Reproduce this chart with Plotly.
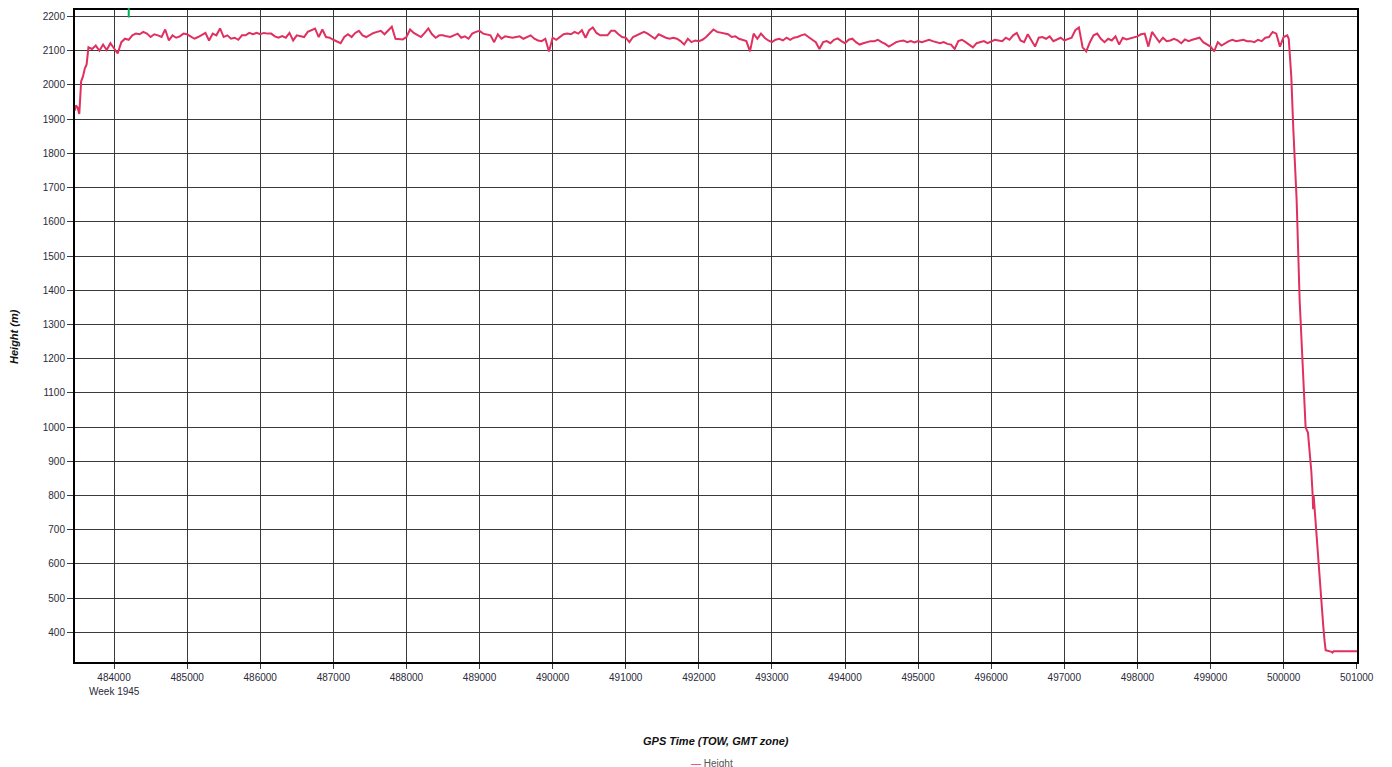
import plotly.graph_objects as go

# ---- data ----
startup_t = [483466, 483475, 483500, 483525, 483550, 483575, 483600, 483625,
             483650, 483700, 483750, 483800, 483850, 483900, 483950]
startup_v = [1925, 1940, 1935, 1915, 2010, 2025, 2048, 2060,
             2110, 2105, 2115, 2100, 2118, 2102, 2122]

plateau_start = 484000
plateau_step = 50
b484 = [2105,2092,2125,2135,2132,2145,2150,2148,2155,2150,2140,2148,2145,2140,2162,2130,2145,2138,2142,2150]
b485 = [2148,2142,2135,2140,2145,2152,2130,2150,2145,2165,2140,2145,2135,2138,2132,2145,2145,2152,2148,2152]
b486 = [2148,2152,2150,2150,2142,2138,2143,2138,2152,2130,2145,2142,2140,2155,2160,2165,2140,2162,2140,2138]
b487 = [2132,2128,2122,2140,2148,2140,2152,2158,2145,2140,2147,2152,2155,2158,2148,2160,2170,2135,2135,2133]
b488 = [2140,2162,2152,2145,2140,2152,2165,2148,2138,2145,2145,2142,2140,2145,2150,2138,2142,2135,2150,2155]
b489 = [2158,2150,2148,2145,2125,2148,2135,2142,2140,2138,2140,2142,2135,2140,2145,2135,2130,2128,2135,2098]
b490 = [2138,2132,2140,2148,2150,2148,2155,2150,2160,2138,2160,2168,2152,2145,2145,2145,2158,2158,2148,2140]
b491 = [2138,2125,2140,2145,2150,2155,2150,2142,2135,2148,2142,2138,2135,2138,2135,2128,2118,2135,2125,2130]
b492 = [2128,2132,2140,2150,2162,2155,2152,2150,2148,2140,2142,2135,2132,2128,2098,2150,2135,2150,2138,2130]
b493 = [2125,2132,2135,2130,2138,2132,2138,2140,2145,2148,2140,2132,2125,2105,2125,2128,2122,2132,2136,2128]
b494 = [2122,2132,2135,2125,2118,2122,2125,2128,2128,2132,2125,2120,2112,2118,2125,2128,2130,2125,2128,2124]
b495 = [2128,2125,2128,2132,2128,2125,2122,2125,2120,2118,2105,2128,2132,2125,2118,2110,2122,2125,2128,2122]
b496 = [2128,2132,2130,2128,2138,2132,2145,2152,2130,2125,2148,2130,2112,2138,2140,2135,2142,2128,2132,2138]
b497 = [2130,2135,2138,2160,2168,2110,2098,2125,2145,2150,2135,2125,2135,2130,2142,2118,2138,2133,2136,2140]
b498 = [2142,2148,2150,2112,2155,2140,2125,2138,2128,2130,2135,2130,2122,2133,2128,2132,2135,2138,2125,2118]
b499 = [2112,2098,2125,2115,2122,2128,2132,2128,2130,2132,2128,2128,2125,2132,2128,2138,2140,2155,2150,2112]
b500 = [2140, 2145]

descent_t = [500070, 500086, 500105, 500133, 500178, 500219, 500287, 500301, 500333,
             500360, 500379, 500397, 500404, 500411, 500424, 500438, 500461, 500483,
             500516, 500543, 500561, 500575, 500657, 500670, 500684, 501054]
descent_v = [2135, 2090, 2025, 1870, 1665, 1373, 1081, 999, 984,
             926, 871, 803, 760, 800, 760, 710, 642, 575,
             496, 417, 374, 348, 343, 341, 345, 345]

x_ticks = [484000, 485000, 486000, 487000, 488000, 489000, 490000, 491000, 492000,
           493000, 494000, 495000, 496000, 497000, 498000, 499000, 500000, 501000]
y_ticks = [400, 500, 600, 700, 800, 900, 1000, 1100, 1200, 1300, 1400, 1500,
           1600, 1700, 1800, 1900, 2000, 2100, 2200]

plateau_v = (b484 + b485 + b486 + b487 + b488 + b489 + b490 + b491 + b492 + b493
             + b494 + b495 + b496 + b497 + b498 + b499 + b500)
plateau_t = [plateau_start + plateau_step * i for i in range(len(plateau_v))]

times = startup_t + plateau_t + descent_t
heights = startup_v + plateau_v + descent_v

LINE = "#e0305f"
FONT = "Liberation Sans, Arial, sans-serif"

fig = go.Figure()
fig.add_trace(go.Scatter(x=times, y=heights, mode="lines", name="Height",
                         line=dict(color=LINE, width=2), showlegend=False))

axis_common = dict(showline=True, mirror=True, linecolor="black", linewidth=2,
                   showgrid=True, gridcolor="#3a3a3a", gridwidth=1, zeroline=False,
                   ticks="outside", tickcolor="#3a3a3a", tickwidth=1,
                   tickfont=dict(family=FONT, size=10, color="#2a2a3a"))

fig.update_xaxes(range=[483466, 501004], tickmode="array", tickvals=x_ticks,
                 ticktext=[str(v) for v in x_ticks], ticklen=5, **axis_common)
fig.update_yaxes(range=[313.5, 2219], tickmode="array", tickvals=y_ticks,
                 ticktext=[str(v) for v in y_ticks], ticklen=6, **axis_common)

# page has an 8px body margin: figure origin sits at (8, 8)
fig.update_layout(
    width=1384, height=767,
    margin=dict(l=67, r=35, t=2, b=113, autoexpand=False),
    paper_bgcolor="white", plot_bgcolor="white",
    font=dict(family=FONT),
    annotations=[
        dict(text="<b><i>GPS Time (TOW, GMT zone)</i></b>", xref="paper", yref="paper",
             x=0.5, y=-0.1212, xanchor="center", yanchor="middle", showarrow=False,
             font=dict(family=FONT, size=11, color="#111")),
        dict(text="<b><i>Height (m)</i></b>", xref="paper", yref="paper",
             x=-0.0476, y=0.5, xanchor="center", yanchor="middle", textangle=-90,
             showarrow=False, font=dict(family=FONT, size=11, color="#111")),
        dict(text="Week 1945", xref="x", yref="paper", x=484000, y=-0.0455,
             xanchor="center", yanchor="middle", showarrow=False,
             font=dict(family=FONT, size=10, color="#2a2a3a")),
        dict(text="<span style='color:%s'>—</span> Height" % LINE, xref="paper", yref="paper",
             x=0.497, y=-0.156, xanchor="center", yanchor="middle", showarrow=False,
             font=dict(family=FONT, size=10, color="#555")),
    ],
    shapes=[
        dict(type="line", xref="x", yref="paper", x0=484201, x1=484201, y0=0.9885, y1=1.004,
             line=dict(color="#00b050", width=2)),
    ],
)

fig.write_html("out.html")
